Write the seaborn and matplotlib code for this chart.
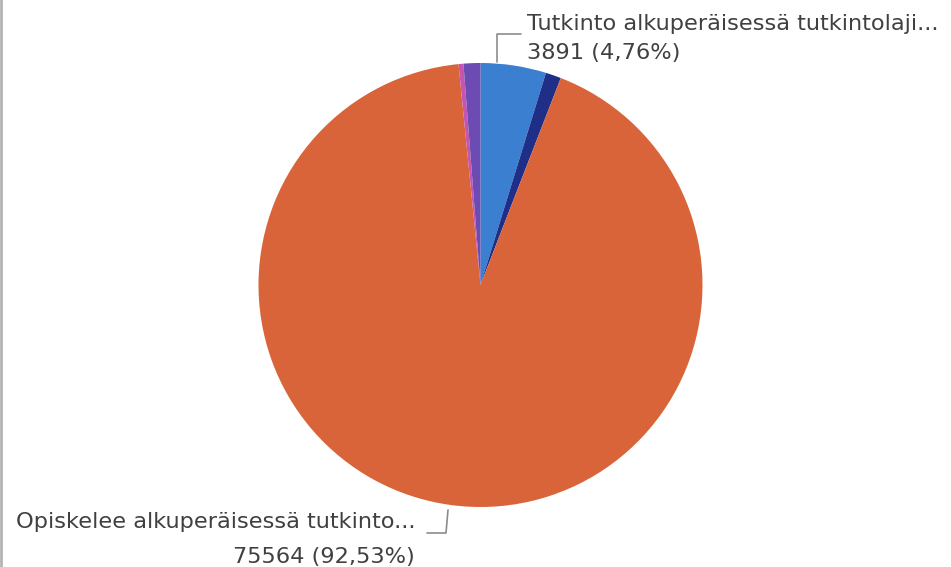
import matplotlib
matplotlib.use("Agg")
import matplotlib.pyplot as plt
import seaborn as sns
from matplotlib.lines import Line2D

# ---- data ----
categories = [
    "Tutkinto alkuperäisessä tutkintolaji...",
    "Muu 1",
    "Opiskelee alkuperäisessä tutkinto...",
    "Muu 2",
    "Muu 3",
]
values = [3891, 919, 75564, 290, 1000]
label_values = ["3891 (4,76%)", "75564 (92,53%)"]
colors = ["#3a7fd0", "#1f2f88", "#d9643a", "#c556b0", "#6c4bb2"]

sns.set_theme(style="white")
plt.rcParams["font.family"] = ["DejaVu Sans"]

W, H = 951, 567
fig = plt.figure(figsize=(W / 100, H / 100), dpi=100)
fig.patch.set_facecolor("white")

def fx(x):
    return x / W

def fy(y):
    return 1 - y / H

# pie axes: pixel box 258..703 x 63..507
ax = fig.add_axes([fx(258), fy(507), (703 - 258) / W, (507 - 63) / H])
ax.pie(values, colors=colors, startangle=90, counterclock=False,
       wedgeprops=dict(linewidth=0))
ax.set_xlim(-1, 1)
ax.set_ylim(-1, 1)
ax.set_aspect("equal")
ax.axis("off")

txt_color = "#404040"
line_color = "#8c8c8c"
fs = 16.2

# top label
fig.text(fx(527), fy(24), categories[0], fontsize=fs, color=txt_color,
         ha="left", va="center")
fig.text(fx(527), fy(53), label_values[0], fontsize=fs, color=txt_color,
         ha="left", va="center")
fig.add_artist(Line2D([fx(497), fx(497), fx(521)], [fy(62), fy(34), fy(34)],
                      transform=fig.transFigure, color=line_color, lw=1.2))

# bottom label
fig.text(fx(415), fy(522), categories[2], fontsize=fs, color=txt_color,
         ha="right", va="center")
fig.text(fx(415), fy(557), label_values[1], fontsize=fs, color=txt_color,
         ha="right", va="center")
fig.add_artist(Line2D([fx(427), fx(446), fx(448)], [fy(533), fy(533), fy(510)],
                      transform=fig.transFigure, color=line_color, lw=1.2))

# left frame border
fig.add_artist(Line2D([fx(1), fx(1)], [0, 1], transform=fig.transFigure,
                      color="#b4b4b4", lw=2))

fig.savefig("out.png", dpi=100, facecolor="white")
